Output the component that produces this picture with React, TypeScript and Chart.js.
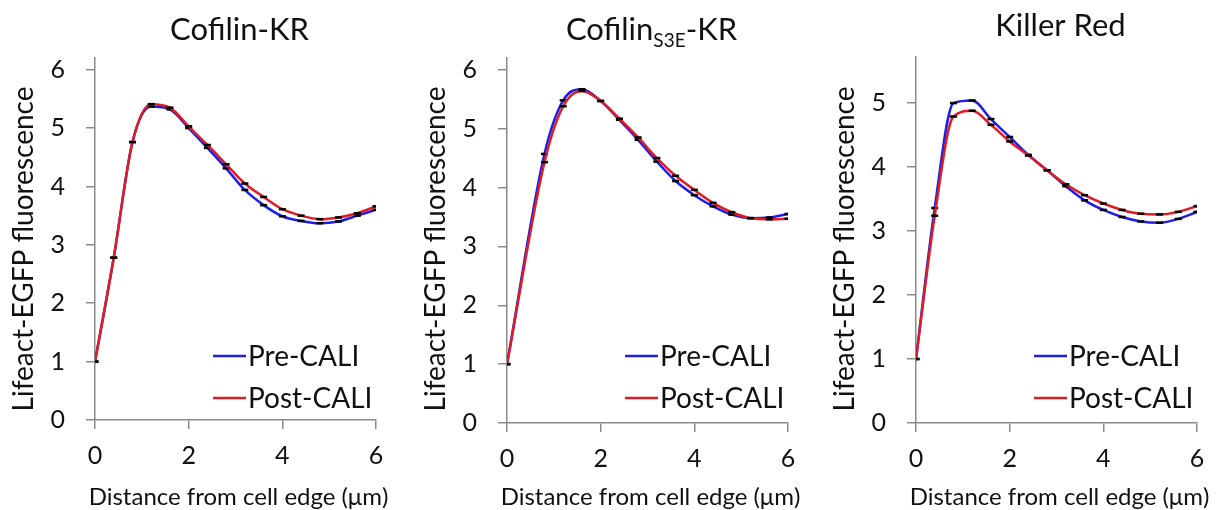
import React, { useEffect, useRef } from "react";
import { Chart, registerables } from "chart.js";

Chart.register(...registerables);

// ---------------- data ----------------
const distances = [0, 0.4, 0.8, 1.2, 1.6, 2.0, 2.4, 2.8, 3.2, 3.6, 4.0, 4.4, 4.8, 5.2, 5.6, 6.0];

const cofilinPre = [1.0, 2.78, 4.76, 5.37, 5.32, 5.0, 4.66, 4.31, 3.94, 3.68, 3.49, 3.41, 3.37, 3.4, 3.5, 3.6];
const cofilinPost = [1.0, 2.78, 4.76, 5.41, 5.35, 5.03, 4.71, 4.38, 4.05, 3.82, 3.61, 3.5, 3.44, 3.47, 3.54, 3.66];

const s3ePre = [1.0, null, 4.57, 5.48, 5.67, 5.47, 5.15, 4.81, 4.44, 4.11, 3.87, 3.68, 3.54, 3.48, 3.49, 3.55];
const s3ePost = [1.0, null, 4.43, 5.38, 5.64, 5.47, 5.17, 4.85, 4.5, 4.2, 3.96, 3.74, 3.58, 3.48, 3.46, 3.47];

const killerRedPre = [1.0, 3.36, 5.0, 5.04, 4.75, 4.47, 4.19, 3.95, 3.7, 3.48, 3.33, 3.22, 3.15, 3.13, 3.19, 3.3];
const killerRedPost = [1.0, 3.24, 4.79, 4.88, 4.66, 4.4, 4.18, 3.95, 3.73, 3.56, 3.43, 3.33, 3.27, 3.26, 3.3, 3.39];

const xTickValues = [0, 2, 4, 6];
const yTicksTo6 = [0, 1, 2, 3, 4, 5, 6];
const yTicksTo5 = [0, 1, 2, 3, 4, 5];

const seriesLabels = ["Pre-CALI", "Post-CALI"];
const seriesColors = ["#1e1ee8", "#e01b24"];

const xAxisTitle = "Distance from cell edge (μm)";
const yAxisTitle = "Lifeact-EGFP fluorescence";

const titleCofilin = [{ text: "Cofilin" }, { text: "-KR" }];
const titleS3E = [{ text: "Cofilin" }, { text: "S3E", sub: true }, { text: "-KR" }];
const titleKiller = [{ text: "Killer Red" }];

// ---------------- layout ----------------
const FONT = "Lato, 'Open Sans', sans-serif";
const H = 510;
const Y_SCALE_W = 60;
const X_SCALE_H = 60;
const AXIS_COLOR = "#8a8a8a";

type TitlePart = { text: string; sub?: boolean };
type PanelDef = {
  title: TitlePart[];
  pre: (number | null)[];
  post: (number | null)[];
  yMax: number;
  yTicks: number[];
  canvasLeft: number;
  width: number;
  area: { l: number; r: number; t: number; b: number };
  titleBaseline: number;
};

const panels: PanelDef[] = [
  { title: titleCofilin, pre: cofilinPre, post: cofilinPost, yMax: 6.2, yTicks: yTicksTo6, canvasLeft: 0, width: 408, area: { l: 95, r: 376, t: 58, b: 420 }, titleBaseline: 40 },
  { title: titleS3E, pre: s3ePre, post: s3ePost, yMax: 6.2, yTicks: yTicksTo6, canvasLeft: 408, width: 410, area: { l: 99, r: 380, t: 58, b: 423 }, titleBaseline: 40 },
  { title: titleKiller, pre: killerRedPre, post: killerRedPost, yMax: 5.72, yTicks: yTicksTo5, canvasLeft: 818, width: 407, area: { l: 98, r: 379, t: 57, b: 423 }, titleBaseline: 36 },
];

function makeDecor(p: PanelDef) {
  return {
    id: "decor",
    afterDraw(chart: any) {
      const ctx = chart.ctx as CanvasRenderingContext2D;
      const { left, right } = chart.chartArea;
      const cx = (left + right) / 2;
      ctx.save();
      ctx.fillStyle = "#111";
      // title
      const mainFont = `31px ${FONT}`;
      const subFont = `19px ${FONT}`;
      let total = 0;
      p.title.forEach((part) => {
        ctx.font = part.sub ? subFont : mainFont;
        total += ctx.measureText(part.text).width;
      });
      let x = cx + 4 - total / 2;
      ctx.textAlign = "left";
      ctx.textBaseline = "alphabetic";
      p.title.forEach((part) => {
        ctx.font = part.sub ? subFont : mainFont;
        ctx.fillText(part.text, x, p.titleBaseline + (part.sub ? 7 : 0));
        x += ctx.measureText(part.text).width;
      });
      // y axis title
      ctx.save();
      ctx.font = `28px ${FONT}`;
      ctx.translate(left - 62, 249);
      ctx.rotate(-Math.PI / 2);
      ctx.textAlign = "center";
      ctx.fillText(yAxisTitle, 0, 0);
      ctx.restore();
      // x axis title
      ctx.font = `24px ${FONT}`;
      ctx.textAlign = "center";
      ctx.fillText(xAxisTitle, cx + 3, 505);
      // legend
      const rows = [356, 398];
      ctx.font = `28px ${FONT}`;
      ctx.textAlign = "left";
      ctx.textBaseline = "middle";
      seriesLabels.forEach((lab, i) => {
        const y = rows[i];
        ctx.strokeStyle = seriesColors[i];
        ctx.lineWidth = 2.5;
        ctx.beginPath();
        ctx.moveTo(right - 163, y);
        ctx.lineTo(right - 130, y);
        ctx.stroke();
        ctx.fillStyle = "#111";
        ctx.fillText(lab, right - 128, y + 1);
      });
      ctx.restore();
    },
  };
}

function Panel({ p }: { p: PanelDef }) {
  const ref = useRef<HTMLCanvasElement | null>(null);
  useEffect(() => {
    if (!ref.current) return;
    const gridOpts = {
      display: true,
      drawOnChartArea: false,
      drawTicks: true,
      tickLength: 9,
      color: AXIS_COLOR,
      lineWidth: 1.5,
    };
    const borderOpts = { display: true, color: AXIS_COLOR, width: 1.5 };
    const mk = (vals: (number | null)[]) => distances.map((d, i) => ({ x: d, y: vals[i] }));
    const chart = new Chart(ref.current, {
      type: "line",
      data: {
        datasets: [
          {
            label: seriesLabels[1],
            data: mk(p.post),
            borderColor: seriesColors[1],
            backgroundColor: seriesColors[1],
          },
          {
            label: seriesLabels[0],
            data: mk(p.pre),
            borderColor: seriesColors[0],
            backgroundColor: seriesColors[0],
          },
        ],
      },
      options: {
        responsive: false,
        animation: false,
        devicePixelRatio: 1,
        spanGaps: true,
        layout: {
          padding: {
            left: p.area.l - Y_SCALE_W,
            right: p.width - p.area.r,
            top: p.area.t,
            bottom: H - p.area.b - X_SCALE_H,
          },
        },
        elements: {
          line: { cubicInterpolationMode: "monotone", borderWidth: 2.5, fill: false },
          point: {
            pointStyle: "line",
            radius: 3.5,
            borderWidth: 2.5,
            borderColor: "#000",
            hoverRadius: 3.5,
          },
        },
        datasets: { line: { pointBorderColor: "#000", pointRadius: 3.5, pointBorderWidth: 2.5, pointStyle: "line" } },
        plugins: {
          legend: { display: false },
          tooltip: { enabled: false },
          title: { display: false },
        },
        scales: {
          x: {
            type: "linear",
            min: 0,
            max: 6,
            afterFit: (s: any) => {
              s.height = X_SCALE_H;
            },
            afterBuildTicks: (s: any) => {
              s.ticks = xTickValues.map((v) => ({ value: v }));
            },
            ticks: {
              stepSize: 2,
              maxRotation: 0,
              padding: 12,
              color: "#111",
              font: { family: FONT, size: 25 },
            },
            grid: gridOpts,
            border: borderOpts,
          },
          y: {
            min: 0,
            max: p.yMax,
            afterFit: (s: any) => {
              s.width = Y_SCALE_W;
            },
            afterBuildTicks: (s: any) => {
              s.ticks = p.yTicks.map((v) => ({ value: v }));
            },
            ticks: {
              stepSize: 1,
              padding: 21,
              color: "#111",
              font: { family: FONT, size: 25 },
            },
            grid: gridOpts,
            border: borderOpts,
          },
        },
      } as any,
      plugins: [makeDecor(p)],
    });
    return () => chart.destroy();
  }, [p]);
  return (
    <canvas
      ref={ref}
      width={p.width}
      height={H}
      style={{ position: "absolute", left: p.canvasLeft, top: 0, width: p.width, height: H, display: "block" }}
    />
  );
}

export default function App() {
  return (
    <div style={{ position: "absolute", left: 0, top: 0, width: 1225, height: H, background: "#fff", overflow: "hidden" }}>
      {panels.map((p, i) => (
        <Panel key={i} p={p} />
      ))}
    </div>
  );
}
